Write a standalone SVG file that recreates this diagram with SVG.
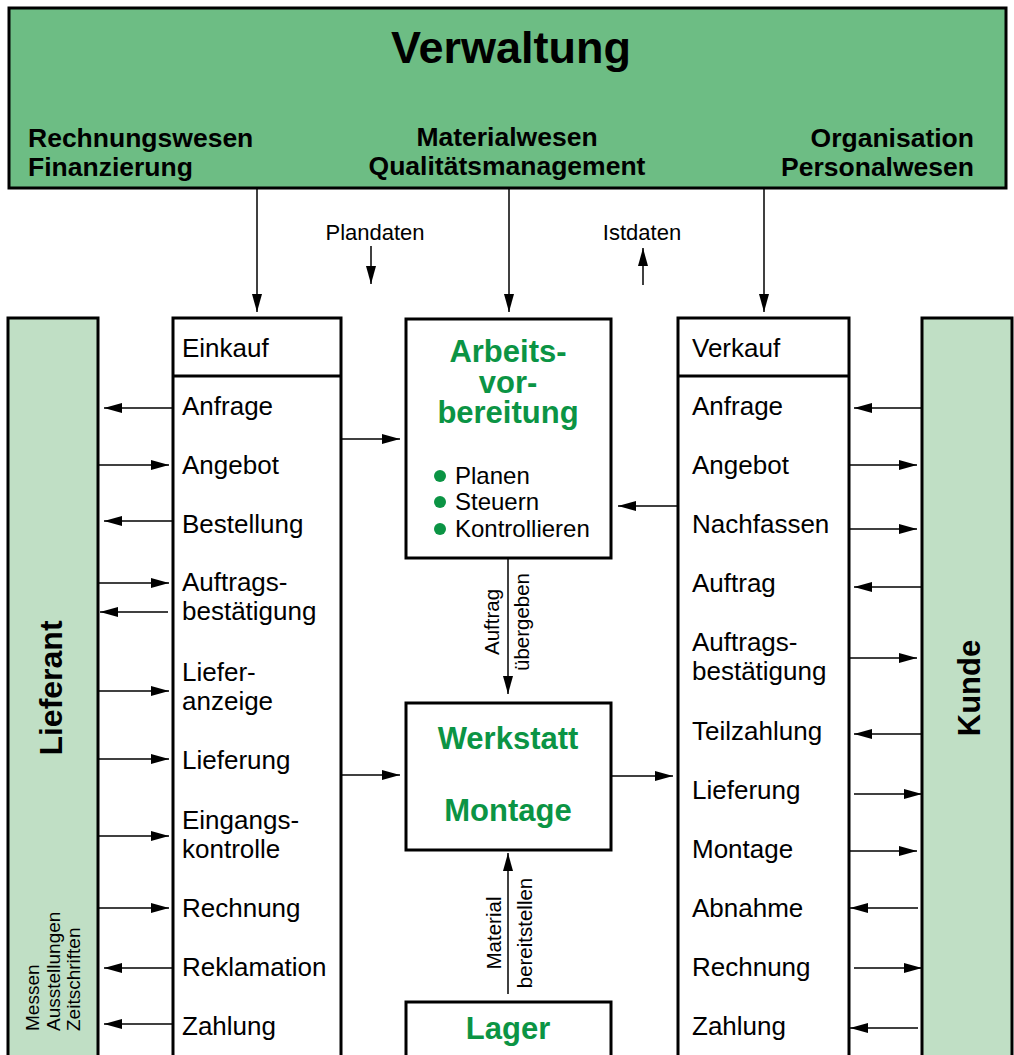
<svg xmlns="http://www.w3.org/2000/svg" width="1014" height="1055" viewBox="0 0 1014 1055">
<style>
text{font-family:"Liberation Sans",Arial,sans-serif;fill:#000}
.box{fill:#fff;stroke:#000;stroke-width:3}
.bar{fill:#c0dfc5;stroke:#000;stroke-width:3}
.hd{font-size:26.5px;font-weight:bold}
.it{font-size:26px}
.gt{font-size:31px;font-weight:bold;fill:#0b9444;text-anchor:middle}
.sm{font-size:20.5px}
.xs{font-size:19px}
.bl{font-size:24px}
.cn line{stroke:#000;stroke-width:1.5;marker-end:url(#ah)}
</style>
<defs>
<marker id="ah" markerUnits="userSpaceOnUse" markerWidth="18" markerHeight="10" refX="18" refY="5" orient="auto" viewBox="0 0 18 10">
<path d="M0,0 L18,5 L0,10 z" fill="#000"/>
</marker>
</defs>
<g id="verwaltung">
<rect x="9" y="8" width="997" height="180" fill="#6dbd84" stroke="#000" stroke-width="3"/>
<text x="511" y="63" font-size="45" font-weight="bold" text-anchor="middle">Verwaltung</text>
<text class="hd" x="28" y="147">Rechnungswesen</text>
<text class="hd" x="28" y="176">Finanzierung</text>
<text class="hd" x="507" y="146" text-anchor="middle">Materialwesen</text>
<text class="hd" x="507" y="175" text-anchor="middle">Qualitätsmanagement</text>
<text class="hd" x="974" y="147" text-anchor="end">Organisation</text>
<text class="hd" x="974" y="176" text-anchor="end">Personalwesen</text>
</g>
<g id="lieferant">
<rect class="bar" x="8" y="318" width="90" height="760"/>
<text transform="translate(62,688) rotate(-90)" font-size="32" font-weight="bold" text-anchor="middle">Lieferant</text>
<text class="xs" transform="translate(39,1031) rotate(-90)">Messen</text>
<text class="xs" transform="translate(59.5,1031) rotate(-90)">Ausstellungen</text>
<text class="xs" transform="translate(80,1031) rotate(-90)">Zeitschriften</text>
</g>
<g id="kunde">
<rect class="bar" x="922" y="318" width="90" height="760"/>
<text transform="translate(980,688) rotate(-90)" font-size="31" font-weight="bold" text-anchor="middle">Kunde</text>
</g>
<g id="einkauf">
<rect class="box" x="173" y="318" width="168" height="760"/>
<line x1="173" y1="376" x2="341" y2="376" stroke="#000" stroke-width="3"/>
<text class="it" x="182" y="357">Einkauf</text>
<text class="it" x="182" y="415">Anfrage</text>
<text class="it" x="182" y="474">Angebot</text>
<text class="it" x="182" y="533">Bestellung</text>
<text class="it" x="182" y="591">Auftrags-</text>
<text class="it" x="182" y="620">bestätigung</text>
<text class="it" x="182" y="681">Liefer-</text>
<text class="it" x="182" y="710">anzeige</text>
<text class="it" x="182" y="769">Lieferung</text>
<text class="it" x="182" y="829">Eingangs-</text>
<text class="it" x="182" y="858">kontrolle</text>
<text class="it" x="182" y="917">Rechnung</text>
<text class="it" x="182" y="976">Reklamation</text>
<text class="it" x="182" y="1035">Zahlung</text>
</g>
<g id="verkauf">
<rect class="box" x="678" y="318" width="171" height="760"/>
<line x1="678" y1="376" x2="849" y2="376" stroke="#000" stroke-width="3"/>
<text class="it" x="692" y="357">Verkauf</text>
<text class="it" x="692" y="415">Anfrage</text>
<text class="it" x="692" y="474">Angebot</text>
<text class="it" x="692" y="533">Nachfassen</text>
<text class="it" x="692" y="592">Auftrag</text>
<text class="it" x="692" y="651">Auftrags-</text>
<text class="it" x="692" y="680">bestätigung</text>
<text class="it" x="692" y="740">Teilzahlung</text>
<text class="it" x="692" y="799">Lieferung</text>
<text class="it" x="692" y="858">Montage</text>
<text class="it" x="692" y="917">Abnahme</text>
<text class="it" x="692" y="976">Rechnung</text>
<text class="it" x="692" y="1035">Zahlung</text>
</g>
<g id="arbeitsvorbereitung">
<rect class="box" x="406" y="319" width="205" height="239"/>
<text class="gt" x="508" y="362">Arbeits-</text>
<text class="gt" x="508" y="393">vor-</text>
<text class="gt" x="508" y="423">bereitung</text>
<circle cx="440" cy="476" r="6" fill="#0b9444"/>
<circle cx="440" cy="502" r="6" fill="#0b9444"/>
<circle cx="440" cy="529" r="6" fill="#0b9444"/>
<text class="bl" x="455" y="484">Planen</text>
<text class="bl" x="455" y="510">Steuern</text>
<text class="bl" x="455" y="537">Kontrollieren</text>
</g>
<g id="werkstatt">
<rect class="box" x="406" y="703" width="205" height="147"/>
<text class="gt" x="508" y="749">Werkstatt</text>
<text class="gt" x="508" y="821">Montage</text>
</g>
<g id="lager">
<rect class="box" x="406" y="1002" width="205" height="80"/>
<text class="gt" x="508" y="1039">Lager</text>
</g>
<g id="labels">
<text x="375" y="240" font-size="22" text-anchor="middle">Plandaten</text>
<text x="642" y="240" font-size="22" text-anchor="middle">Istdaten</text>
<text class="sm" transform="translate(499,622) rotate(-90)" text-anchor="middle">Auftrag</text>
<text class="sm" transform="translate(529,622) rotate(-90)" text-anchor="middle">übergeben</text>
<text class="sm" transform="translate(501,933) rotate(-90)" text-anchor="middle">Material</text>
<text class="sm" transform="translate(532,933) rotate(-90)" text-anchor="middle">bereitstellen</text>
</g>
<g id="connectors" class="cn">
<line x1="257" y1="188" x2="257" y2="312"/>
<line x1="509" y1="188" x2="509" y2="312"/>
<line x1="764" y1="188" x2="764" y2="312"/>
<line x1="371" y1="246" x2="371" y2="284"/>
<line x1="643" y1="285" x2="643" y2="248"/>
<line x1="173" y1="408" x2="104" y2="408"/>
<line x1="98" y1="465" x2="169" y2="465"/>
<line x1="173" y1="521" x2="104" y2="521"/>
<line x1="98" y1="583" x2="169" y2="583"/>
<line x1="168" y1="612" x2="100" y2="612"/>
<line x1="98" y1="691" x2="169" y2="691"/>
<line x1="98" y1="759" x2="169" y2="759"/>
<line x1="98" y1="836" x2="169" y2="836"/>
<line x1="98" y1="908" x2="169" y2="908"/>
<line x1="173" y1="968" x2="104" y2="968"/>
<line x1="173" y1="1024" x2="104" y2="1024"/>
<line x1="922" y1="408" x2="854" y2="408"/>
<line x1="849" y1="465" x2="917" y2="465"/>
<line x1="849" y1="529" x2="917" y2="529"/>
<line x1="922" y1="587" x2="854" y2="587"/>
<line x1="849" y1="658" x2="917" y2="658"/>
<line x1="922" y1="734" x2="854" y2="734"/>
<line x1="854" y1="794" x2="922" y2="794"/>
<line x1="849" y1="851" x2="917" y2="851"/>
<line x1="918" y1="908" x2="850" y2="908"/>
<line x1="854" y1="968" x2="922" y2="968"/>
<line x1="918" y1="1028" x2="850" y2="1028"/>
<line x1="341" y1="439" x2="400" y2="439"/>
<line x1="341" y1="775" x2="400" y2="775"/>
<line x1="678" y1="506" x2="618" y2="506"/>
<line x1="611" y1="776" x2="673" y2="776"/>
<line x1="508" y1="558" x2="508" y2="694"/>
<line x1="508" y1="994" x2="508" y2="853"/>
</g>
</svg>
